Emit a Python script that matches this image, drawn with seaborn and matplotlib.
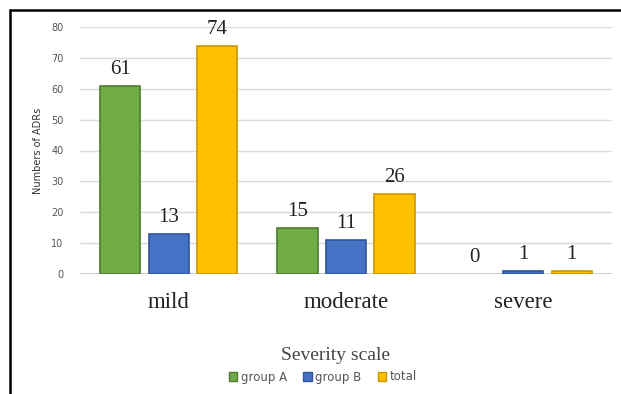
import matplotlib
matplotlib.use("Agg")
import matplotlib.pyplot as plt
from matplotlib.lines import Line2D
from matplotlib.patches import Patch
import seaborn as sns
import pandas as pd

# Adverse drug reaction counts by severity
categories = ["mild", "moderate", "severe"]
groups = ["group A", "group B", "total"]
group_a = [61, 15, 0]
group_b = [13, 11, 1]
total = [74, 26, 1]
y_ticks = [0, 10, 20, 30, 40, 50, 60, 70, 80]

fill_colors = {"group A": "#70AD47", "group B": "#4472C4", "total": "#FFC000"}
edge_colors = {"group A": "#4E7A30", "group B": "#2F5597", "total": "#C99700"}

rows = []
for series_name, values in zip(groups, [group_a, group_b, total]):
    for cat, v in zip(categories, values):
        rows.append({"severity": cat, "series": series_name, "count": v})
df = pd.DataFrame(rows)

sns.set_theme(style="white")
plt.rcParams["font.family"] = ["DejaVu Sans"]

fig = plt.figure(figsize=(6.21, 3.94), dpi=100)
ax = fig.add_axes([80 / 621, 1 - 274 / 394, 532 / 621, 247 / 394])

sns.barplot(data=df, x="severity", y="count", hue="series", order=categories,
            hue_order=groups, palette=fill_colors, saturation=1, width=0.82, gap=0.17,
            legend=False, ax=ax, zorder=3)

# outline each bar in a darker shade of its fill
for container, name in zip(ax.containers, groups):
    for bar, v in zip(container, container.datavalues):
        bar.set_edgecolor(edge_colors[name])
        bar.set_linewidth(1.2 if v > 0 else 0)
    ax.bar_label(container, labels=[str(int(v)) for v in container.datavalues],
                 padding=5, fontsize=15, family="Liberation Serif", color="#222222")

ax.set_ylim(0, 80)
ax.set_xlim(-0.5, 2.5)
ax.set_yticks(y_ticks)
ax.set_yticklabels([str(t) for t in y_ticks], fontsize=7, color="#555555")
ax.tick_params(axis="y", length=0, pad=12)
ax.tick_params(axis="x", length=0, pad=13)
ax.set_xticks(range(len(categories)))
ax.set_xticklabels(categories, fontsize=16.5, family="Liberation Serif", color="#222222")
ax.yaxis.grid(True, color="#DADADA", linewidth=1, zorder=0)
ax.xaxis.grid(False)
for s in ax.spines.values():
    s.set_visible(False)
ax.axhline(0, color="#C8C8C8", linewidth=1.2, zorder=2)

ax.set_ylabel("Numbers of ADRs", fontsize=7, color="#333333", labelpad=6)
ax.set_xlabel("")
fig.text(0.54, 1 - 356 / 394, "Severity scale", ha="center", va="center",
         fontsize=14, family="Liberation Serif", color="#444444")

handles = [Patch(facecolor=fill_colors[g], edgecolor=edge_colors[g], label=g) for g in groups]
fig.legend(handles=handles, loc="center", bbox_to_anchor=(0.52, 1 - 377 / 394), ncol=3,
           frameon=False, fontsize=8.5, handlelength=0.7, handleheight=0.7,
           handletextpad=0.3, columnspacing=1.4, labelcolor="#555555")

# frame lines along the top and left edges
fig.add_artist(Line2D([10 / 621, 1], [1 - 10 / 394, 1 - 10 / 394], color="black", linewidth=1.8))
fig.add_artist(Line2D([10 / 621, 10 / 621], [0, 1 - 10 / 394], color="black", linewidth=1.8))

fig.savefig("out.png", dpi=100)
